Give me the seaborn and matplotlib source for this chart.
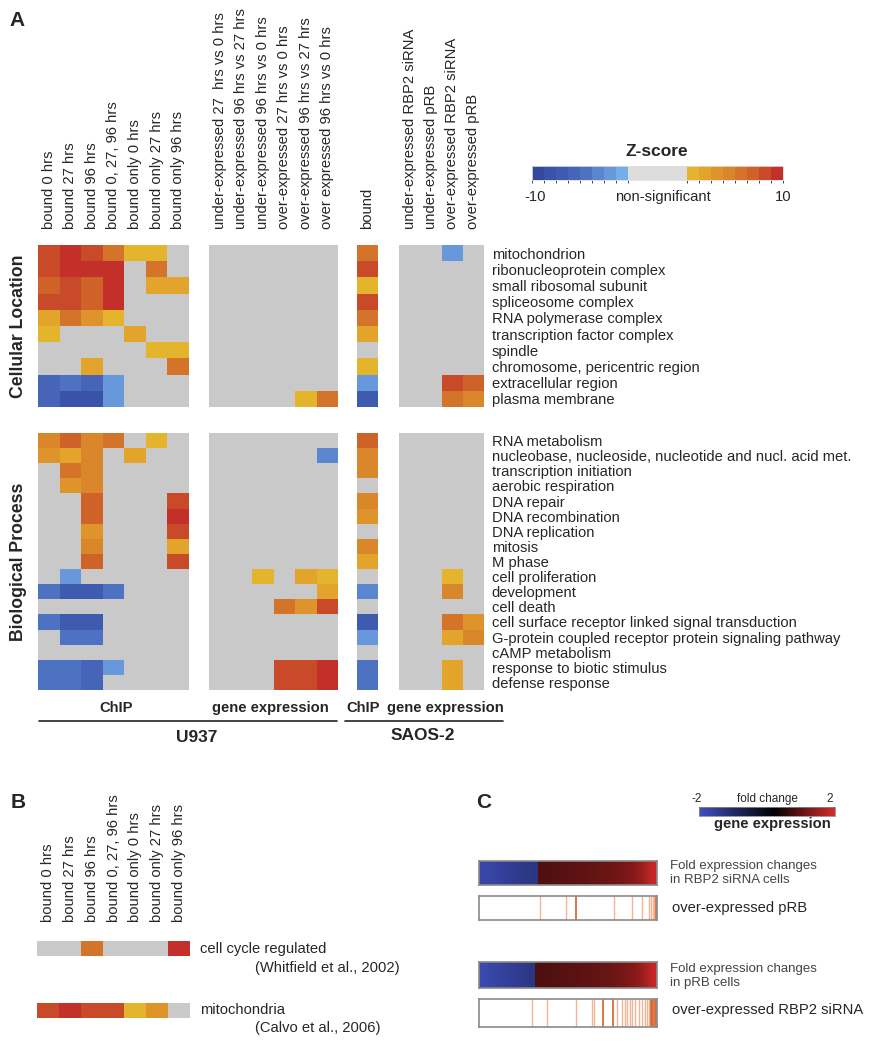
import numpy as np
import matplotlib
matplotlib.use('Agg')
import matplotlib.pyplot as plt
import seaborn as sns
from matplotlib.colors import ListedColormap, BoundaryNorm, LinearSegmentedColormap, Normalize
from matplotlib.cm import ScalarMappable

sns.set_style('white')
plt.rcParams['font.family'] = ['Liberation Sans', 'DejaVu Sans']

W, H = 869, 1050

# ---- labels ----
chip_u937 = ['bound 0 hrs', 'bound 27 hrs', 'bound 96 hrs', 'bound 0, 27, 96 hrs',
             'bound only 0 hrs', 'bound only 27 hrs', 'bound only 96 hrs']
expr_u937 = ['under-expressed 27  hrs vs 0 hrs', 'under-expressed 96 hrs vs 27 hrs',
             'under-expressed 96 hrs vs 0 hrs', 'over-expressed 27 hrs vs 0 hrs',
             'over-expressed 96 hrs vs 27 hrs', 'over expressed 96 hrs vs 0 hrs']
chip_saos = ['bound']
expr_saos = ['under-expressed RBP2 siRNA', 'under-expressed pRB',
             'over-expressed RBP2 siRNA', 'over-expressed pRB']

cell_location = ['mitochondrion', 'ribonucleoprotein complex', 'small ribosomal subunit',
                 'spliceosome complex', 'RNA polymerase complex', 'transcription factor complex',
                 'spindle', 'chromosome, pericentric region', 'extracellular region',
                 'plasma membrane']
bio_process = ['RNA metabolism', 'nucleobase, nucleoside, nucleotide and nucl. acid met.',
               'transcription initiation', 'aerobic respiration', 'DNA repair',
               'DNA recombination', 'DNA replication', 'mitosis', 'M phase',
               'cell proliferation', 'development', 'cell death',
               'cell surface receptor linked signal transduction',
               'G-protein coupled receptor protein signaling pathway', 'cAMP metabolism',
               'response to biotic stimulus', 'defense response']

# ---- z-scores (0 = non-significant) ----
cl_chip_u937 = [[9, 10, 9, 7, 3, 3, 0],
                [9, 10, 10, 10, 0, 7, 0],
                [8, 9, 8, 10, 0, 4, 4],
                [9, 9, 8, 10, 0, 0, 0],
                [4, 7, 5, 3, 0, 0, 0],
                [3, 0, 0, 0, 4, 0, 0],
                [0, 0, 0, 0, 0, 3, 3],
                [0, 0, 4, 0, 0, 0, 7],
                [-7, -6, -7, -4, 0, 0, 0],
                [-7, -9, -9, -4, 0, 0, 0]]
cl_expr_u937 = [[0, 0, 0, 0, 0, 0]] * 9 + [[0, 0, 0, 0, 3, 7]]
cl_chip_saos = [[7], [9], [3], [9], [7], [4], [0], [3], [-4], [-8]]
cl_expr_saos = [[0, 0, -4, 0]] + [[0, 0, 0, 0]] * 7 + [[0, 0, 9, 8], [0, 0, 7, 6]]

bp_chip_u937 = [[6, 8, 6, 7, 0, 3, 0],
                [5, 4, 6, 0, 4, 0, 0],
                [0, 7, 6, 0, 0, 0, 0],
                [0, 5, 6, 0, 0, 0, 0],
                [0, 0, 8, 0, 0, 0, 9],
                [0, 0, 8, 0, 0, 0, 10],
                [0, 0, 5, 0, 0, 0, 9],
                [0, 0, 6, 0, 0, 0, 4],
                [0, 0, 8, 0, 0, 0, 9],
                [0, -4, 0, 0, 0, 0, 0],
                [-6, -8, -8, -6, 0, 0, 0],
                [0, 0, 0, 0, 0, 0, 0],
                [-6, -8, -8, 0, 0, 0, 0],
                [0, -6, -6, 0, 0, 0, 0],
                [0, 0, 0, 0, 0, 0, 0],
                [-6, -6, -7, -4, 0, 0, 0],
                [-6, -6, -7, 0, 0, 0, 0]]
bp_expr_u937 = [[0, 0, 0, 0, 0, 0],
                [0, 0, 0, 0, 0, -5],
                [0, 0, 0, 0, 0, 0],
                [0, 0, 0, 0, 0, 0],
                [0, 0, 0, 0, 0, 0],
                [0, 0, 0, 0, 0, 0],
                [0, 0, 0, 0, 0, 0],
                [0, 0, 0, 0, 0, 0],
                [0, 0, 0, 0, 0, 0],
                [0, 0, 3, 0, 4, 3],
                [0, 0, 0, 0, 0, 4],
                [0, 0, 0, 7, 5, 9],
                [0, 0, 0, 0, 0, 0],
                [0, 0, 0, 0, 0, 0],
                [0, 0, 0, 0, 0, 0],
                [0, 0, 0, 9, 9, 10],
                [0, 0, 0, 9, 9, 10]]
bp_chip_saos = [[8], [6], [6], [0], [6], [5], [0], [6], [4], [0], [-5], [0], [-8], [-4], [0], [-6], [-6]]
bp_expr_saos = [[0, 0, 0, 0]] * 9 + [[0, 0, 3, 0], [0, 0, 6, 0], [0, 0, 0, 0],
                                     [0, 0, 7, 5], [0, 0, 4, 6], [0, 0, 0, 0],
                                     [0, 0, 4, 0], [0, 0, 4, 0]]

# panel B
b_rows = ['cell cycle regulated', 'mitochondria']
b_refs = ['(Whitfield et al., 2002)', '(Calvo et al., 2006)']
cell_cycle = [[0, 0, 7, 0, 0, 0, 10]]
mitochondria = [[9, 10, 9, 9, 3, 5, 0]]

# panel C: sorted fold changes (log scale, -2..2) and positions of over-expressed genes
fold_rbp2_neg = [-1.75, -1.65, -1.55, -1.45, -1.35, -1.3]
fold_rbp2_pos = [0.88, 0.9, 0.93, 0.96, 1.0, 1.03, 1.07, 1.12, 1.2, 1.3, 1.5, 1.85]
fold_prb_neg = [-1.8, -1.7, -1.6, -1.5, -1.4, -1.3]
fold_prb_pos = [0.85, 0.88, 0.9, 0.93, 0.96, 1.0, 1.03, 1.07, 1.12, 1.2, 1.3, 1.5, 1.85]
hits_prb_faint = [0.34, 0.49, 0.76, 0.86, 0.915, 0.955, 0.965, 0.975, 0.985]
hits_prb_strong = [0.545, 0.993]
hits_sirna_faint = [0.3, 0.38, 0.545, 0.635, 0.646, 0.775, 0.803, 0.82, 0.83, 0.846,
                    0.86, 0.876, 0.9, 0.916, 0.933, 0.944, 0.955]
hits_sirna_strong = [0.697, 0.753, 0.965, 0.972, 0.98, 0.987, 0.993]

# ---- colours ----
blues = ['#34499e', '#3a52a8', '#3f5bb0', '#4664b8', '#4e72c2', '#5a86d0', '#6898dc', '#74aee8']
oranges = ['#e3b42c', '#e2a42a', '#de942a', '#da862a', '#d4742a', '#cf6228', '#c94a28', '#c3302a']
grey = '#c9c9c9'
zcmap = ListedColormap(blues + [grey] + oranges)
zcmap_bar = ListedColormap(blues + ['#dddddd'] + oranges)
bounds = list(np.arange(-10.5, -2.0, 1.0)) + list(np.arange(2.5, 11.0, 1.0))
znorm = BoundaryNorm(bounds, 17, clip=True)

fc_cmap = LinearSegmentedColormap.from_list('fc', [(0, '#4050c0'), (0.55, '#000000'), (1, '#d62a2a')])
fc_norm = Normalize(-2, 2)

fs = 10.6

fig = plt.figure(figsize=(W / 100, H / 100), dpi=100)


def px_axes(x0, y0, x1, y1):
    return fig.add_axes([x0 / W, 1 - y1 / H, (x1 - x0) / W, (y1 - y0) / H])


def zheat(box, data, xlabels=None, ylabels=None, pad_top=11.5):
    ax = px_axes(*box)
    sns.heatmap(np.array(data, dtype=float), ax=ax, cmap=zcmap, norm=znorm, cbar=False,
                xticklabels=xlabels if xlabels else False,
                yticklabels=ylabels if ylabels else False, linewidths=0)
    if xlabels:
        ax.xaxis.set_ticks_position('top')
        ax.tick_params(axis='x', top=True, labeltop=True, bottom=False, labelbottom=False,
                       length=0, pad=pad_top, labelsize=fs, labelrotation=90)
    if ylabels:
        ax.yaxis.set_ticks_position('right')
        ax.tick_params(axis='y', right=True, labelright=True, left=False, labelleft=False,
                       length=0, pad=5.5, labelsize=fs, labelrotation=0)
    ax.set_xlabel('')
    ax.set_ylabel('')
    return ax


# ---- panel A ----
cl_y = (245, 407)
bp_y = (433, 690)
cols = [(38, 189), (209, 338), (357, 378), (399, 484)]

zheat((cols[0][0], cl_y[0], cols[0][1], cl_y[1]), cl_chip_u937, xlabels=chip_u937)
zheat((cols[1][0], cl_y[0], cols[1][1], cl_y[1]), cl_expr_u937, xlabels=expr_u937)
zheat((cols[2][0], cl_y[0], cols[2][1], cl_y[1]), cl_chip_saos, xlabels=chip_saos)
zheat((cols[3][0], cl_y[0], cols[3][1], cl_y[1]), cl_expr_saos, xlabels=expr_saos,
      ylabels=cell_location)

zheat((cols[0][0], bp_y[0], cols[0][1], bp_y[1]), bp_chip_u937)
zheat((cols[1][0], bp_y[0], cols[1][1], bp_y[1]), bp_expr_u937)
zheat((cols[2][0], bp_y[0], cols[2][1], bp_y[1]), bp_chip_saos)
zheat((cols[3][0], bp_y[0], cols[3][1], bp_y[1]), bp_expr_saos, ylabels=bio_process)

# z-score colour bar
cax = px_axes(532, 166, 783, 180)
cb = fig.colorbar(ScalarMappable(norm=znorm, cmap=zcmap_bar), cax=cax, orientation='horizontal',
                  spacing='proportional', ticks=[])
cb.outline.set_edgecolor('#dddddd')
cb.outline.set_linewidth(0.6)

# ---- panel B ----
zheat((37, 941, 190, 956), cell_cycle, xlabels=chip_u937, pad_top=13.5)
zheat((37, 1003, 190, 1018), mitochondria)

# ---- panel C ----
def fold_bar(box, neg, pos):
    ax = px_axes(*box)
    n1, n2 = len(neg), len(pos)
    ax.imshow([neg], cmap=fc_cmap, norm=fc_norm, aspect='auto', interpolation='bilinear',
              extent=(0, n1, 0, 1))
    ax.imshow([pos], cmap=fc_cmap, norm=fc_norm, aspect='auto', interpolation='bilinear',
              extent=(n1, n1 + n2, 0, 1))
    ax.set_xlim(0, n1 + n2)
    ax.set_ylim(0, 1)
    ax.set_xticks([])
    ax.set_yticks([])
    for s in ax.spines.values():
        s.set_visible(True)
        s.set_edgecolor('#8a8a8a')
        s.set_linewidth(1.2)
    return ax


def hit_bar(box, faint, strong):
    ax = px_axes(*box)
    ax.vlines(faint, 0, 1, colors='#f2b594', linewidth=1.0)
    ax.vlines(strong, 0, 1, colors='#dc6a3a', linewidth=1.3)
    ax.set_xlim(0, 1)
    ax.set_ylim(0, 1)
    ax.set_xticks([])
    ax.set_yticks([])
    for s in ax.spines.values():
        s.set_visible(True)
        s.set_edgecolor('#8a8a8a')
        s.set_linewidth(1.2)
    return ax


fold_bar((479, 861, 657, 885), fold_rbp2_neg, fold_rbp2_pos)
hit_bar((479, 896, 657, 920), hits_prb_faint, hits_prb_strong)
fold_bar((479, 962, 657, 988), fold_prb_neg, fold_prb_pos)
hit_bar((479, 999, 657, 1027), hits_sirna_faint, hits_sirna_strong)

fcax = px_axes(699, 807, 835, 816)
cb2 = fig.colorbar(ScalarMappable(norm=fc_norm, cmap=fc_cmap), cax=fcax, orientation='horizontal', ticks=[])
cb2.outline.set_edgecolor('#888888')
cb2.outline.set_linewidth(0.6)

# ---- annotations (pixel coordinates) ----
ann = fig.add_axes([0, 0, 1, 1])
ann.set_xlim(0, W)
ann.set_ylim(H, 0)
ann.axis('off')
ann.set_zorder(10)

ann.text(17, 20, 'A', fontsize=15, fontweight='bold', ha='center', va='center')
ann.text(18, 803, 'B', fontsize=15, fontweight='bold', ha='center', va='center')
ann.text(484, 803, 'C', fontsize=15, fontweight='bold', ha='center', va='center')

ann.text(19, 326, 'Cellular Location', fontsize=12.7, fontweight='bold', rotation=90,
         ha='center', va='center')
ann.text(19, 562, 'Biological Process', fontsize=12.7, fontweight='bold', rotation=90,
         ha='center', va='center')

ann.text(657, 152, 'Z-score', fontsize=12.5, fontweight='bold', ha='center', va='center')
ann.text(535, 197, '-10', fontsize=fs, ha='center', va='center')
ann.text(663, 197, 'non-significant', fontsize=fs, ha='center', va='center')
ann.text(783, 197, '10', fontsize=fs, ha='center', va='center')

for x, lab in [(116, 'ChIP'), (270, 'gene expression'), (363, 'ChIP'), (445, 'gene expression')]:
    ann.text(x, 708, lab, fontsize=fs, fontweight='bold', ha='center', va='center')
ann.plot([39, 337], [721, 721], color='#222222', lw=1.2)
ann.plot([345, 503], [721, 721], color='#222222', lw=1.2)
ann.text(197, 738, 'U937', fontsize=12.5, fontweight='bold', ha='center', va='center')
ann.text(423, 736, 'SAOS-2', fontsize=12.5, fontweight='bold', ha='center', va='center')

ann.text(200, 949, b_rows[0], fontsize=fs, ha='left', va='center')
ann.text(255, 968, b_refs[0], fontsize=fs, ha='left', va='center')
ann.text(200, 1010, b_rows[1], fontsize=fs, ha='left', va='center')
ann.text(255, 1028, b_refs[1], fontsize=fs, ha='left', va='center')

ann.text(697, 799, '-2', fontsize=8.5, ha='center', va='center')
ann.text(767, 799, 'fold change', fontsize=8.5, ha='center', va='center')
ann.text(830, 799, '2', fontsize=8.5, ha='center', va='center')
ann.text(772, 824, 'gene expression', fontsize=fs, fontweight='bold', ha='center', va='center')

ann.text(670, 873, 'Fold expression changes\nin RBP2 siRNA cells', fontsize=9.5, color='#444444',
         ha='left', va='center', linespacing=1.15)
ann.text(672, 908, 'over-expressed pRB', fontsize=fs, ha='left', va='center')
ann.text(670, 976, 'Fold expression changes\nin pRB cells', fontsize=9.5, color='#444444',
         ha='left', va='center', linespacing=1.15)
ann.text(672, 1010, 'over-expressed RBP2 siRNA', fontsize=fs, ha='left', va='center')

fig.savefig('out.png', dpi=100)
